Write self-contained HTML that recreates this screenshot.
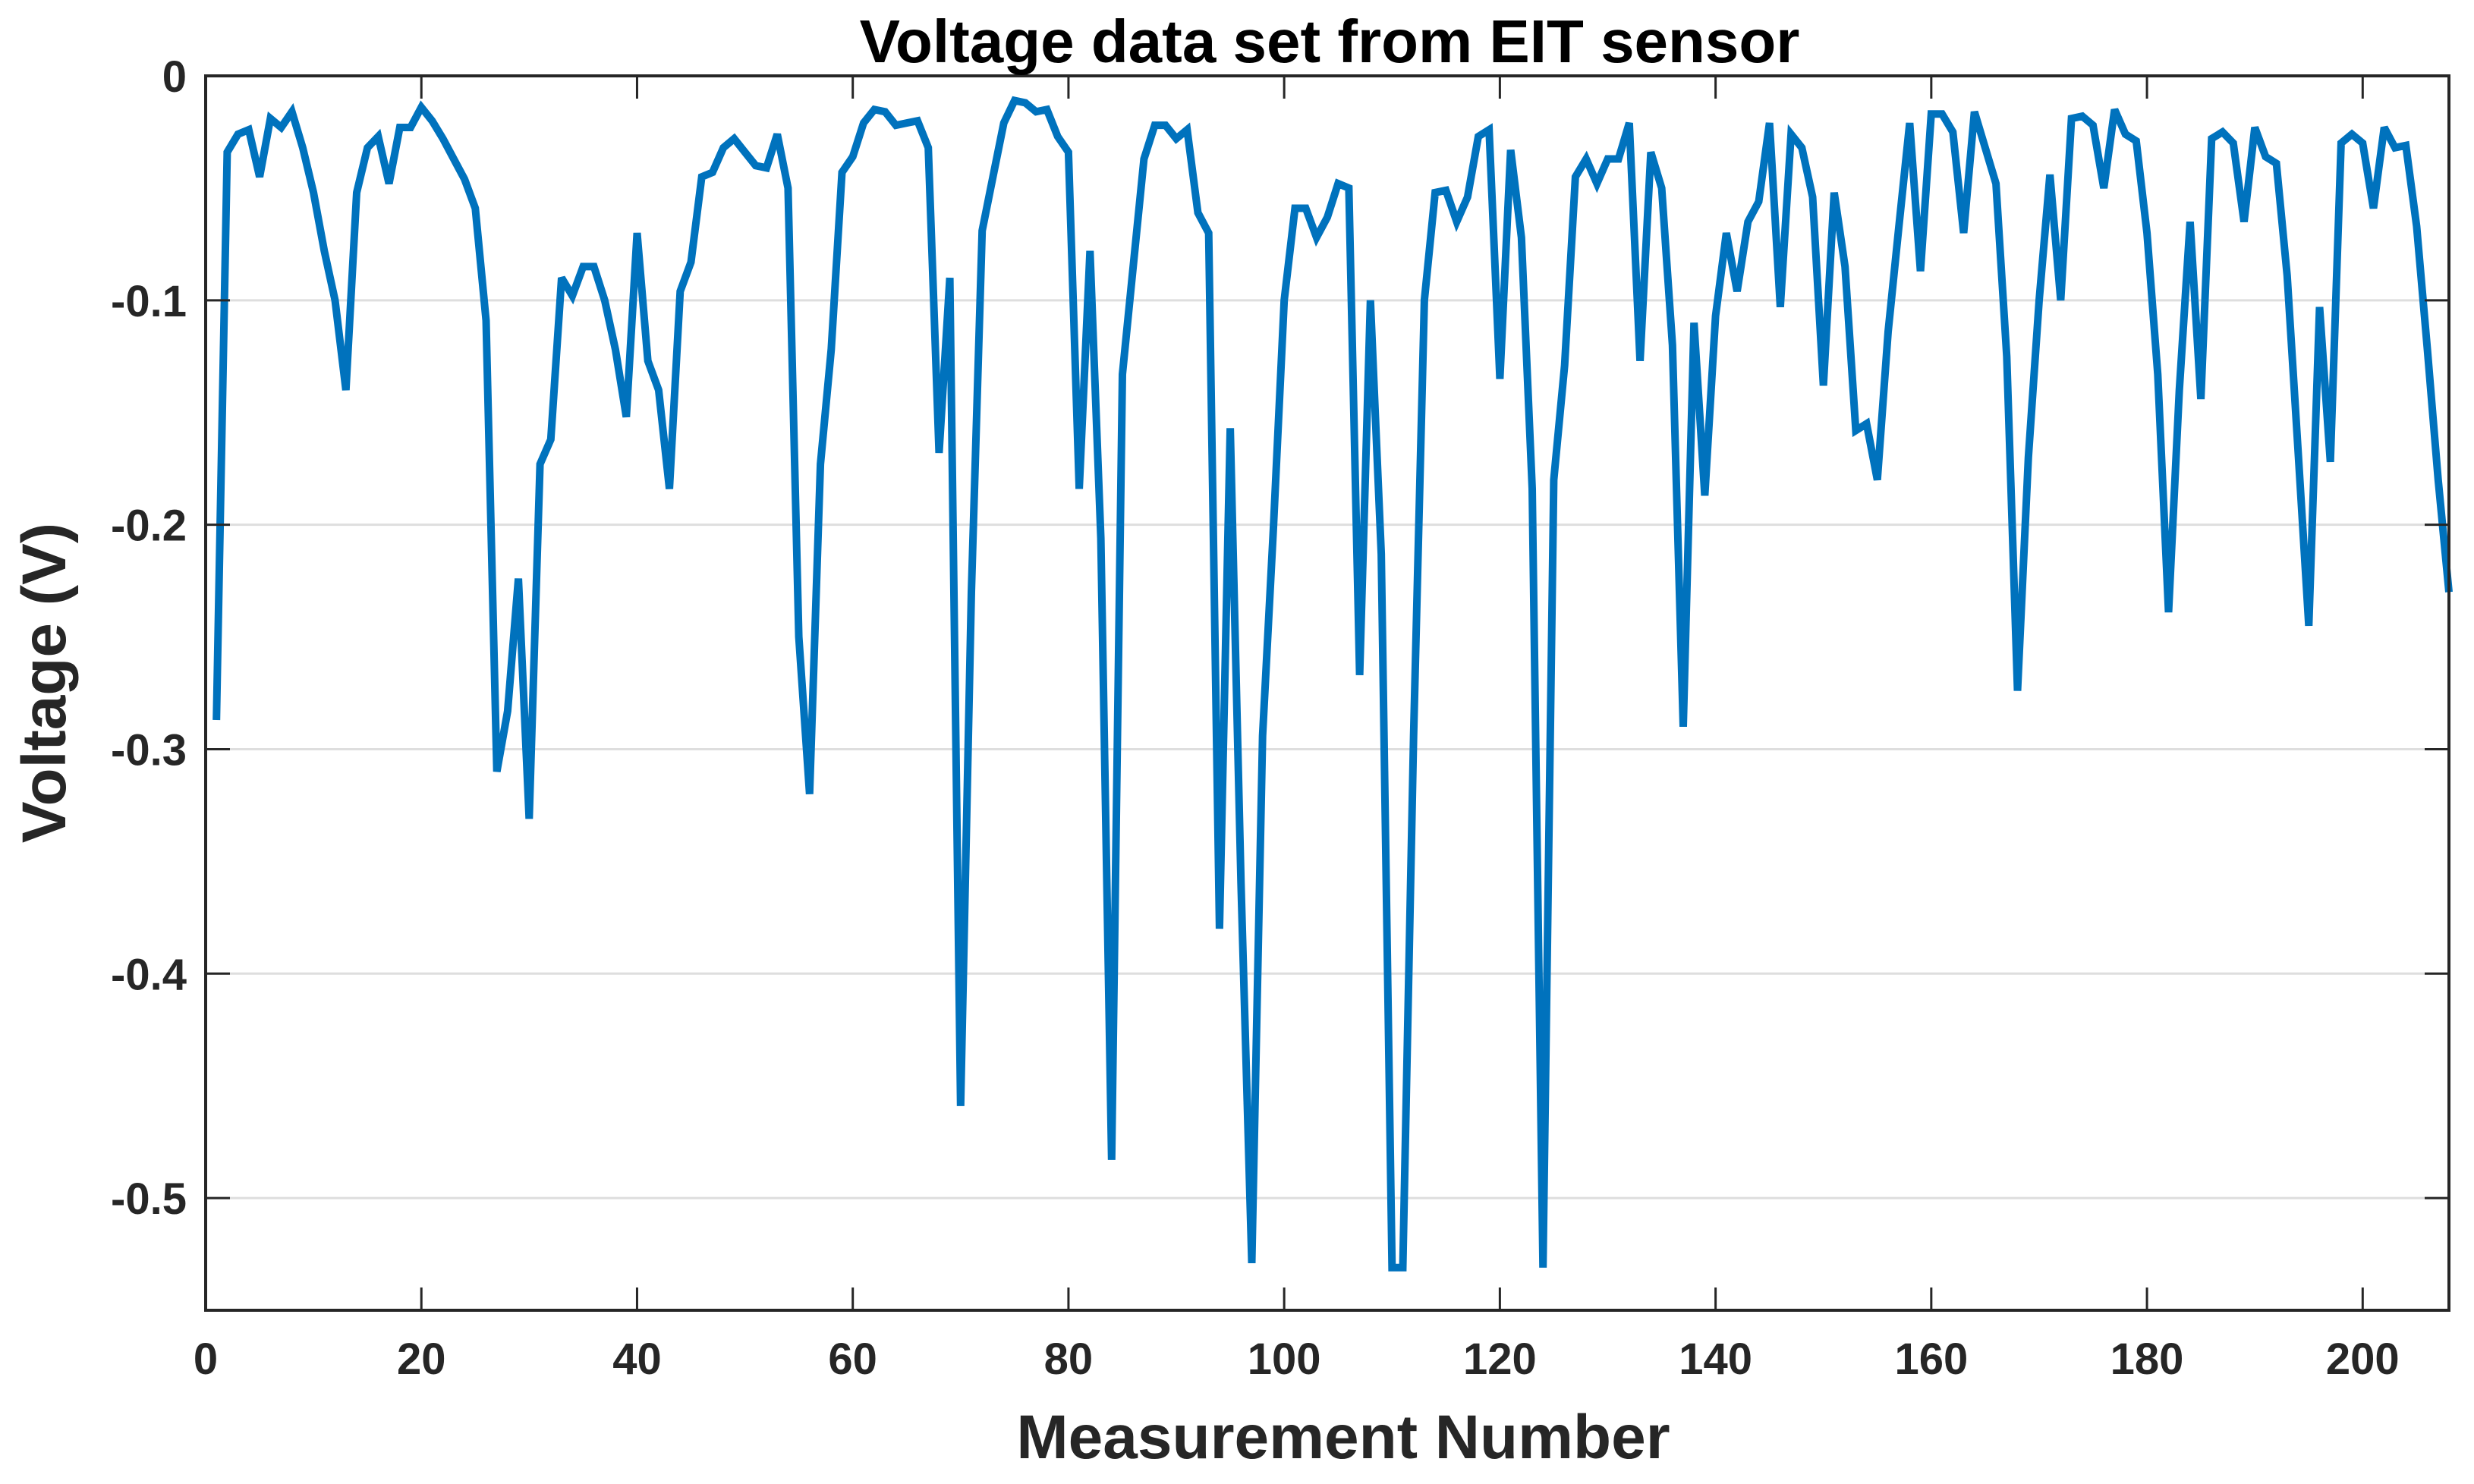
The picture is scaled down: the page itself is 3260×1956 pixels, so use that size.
<!DOCTYPE html>
<html><head><meta charset="utf-8"><style>
html,body{margin:0;padding:0;background:#fff}
svg text{font-family:"Liberation Sans",Arial,sans-serif;font-weight:bold;fill:#262626}
</style></head><body>
<svg id="chart" width="3260" height="1951" viewBox="0 0 3260 1951" xmlns="http://www.w3.org/2000/svg">
<rect x="0" y="0" width="3260" height="1951" fill="#fff"/>
<g id="grid"></g>
<g id="series"></g>
<g id="axes"></g>
<text x="1752" y="82" font-size="80" text-anchor="middle" style="fill:#000">Voltage data set from EIT sensor</text>
<text x="1770" y="1922" font-size="82" text-anchor="middle">Measurement Number</text>
<text x="0" y="0" font-size="82" text-anchor="middle" transform="translate(86,900) rotate(-90)">Voltage (V)</text>
</svg>
<script>
const voltages = [-0.287,-0.034,-0.026,-0.024,-0.045,-0.019,-0.023,-0.016,-0.032,-0.052,
-0.078,-0.1,-0.14,-0.052,-0.032,-0.027,-0.048,-0.023,-0.023,-0.014,
-0.02,-0.028,-0.037,-0.046,-0.059,-0.109,-0.31,-0.283,-0.224,-0.331,
-0.173,-0.162,-0.09,-0.098,-0.085,-0.085,-0.1,-0.122,-0.152,-0.07,
-0.127,-0.14,-0.184,-0.096,-0.083,-0.045,-0.043,-0.032,-0.028,-0.034,
-0.04,-0.041,-0.026,-0.05,-0.25,-0.32,-0.173,-0.122,-0.043,-0.036,
-0.021,-0.015,-0.016,-0.022,-0.021,-0.02,-0.032,-0.168,-0.09,-0.459,
-0.23,-0.069,-0.045,-0.021,-0.011,-0.012,-0.016,-0.015,-0.027,-0.034,
-0.184,-0.078,-0.206,-0.483,-0.133,-0.085,-0.037,-0.022,-0.022,-0.028,
-0.024,-0.061,-0.07,-0.38,-0.157,-0.36,-0.529,-0.294,-0.202,-0.1,
-0.059,-0.059,-0.072,-0.063,-0.048,-0.05,-0.267,-0.1,-0.213,-0.531,
-0.531,-0.294,-0.1,-0.052,-0.051,-0.065,-0.054,-0.027,-0.024,-0.135,
-0.033,-0.072,-0.184,-0.531,-0.18,-0.129,-0.045,-0.037,-0.048,-0.037,
-0.037,-0.021,-0.127,-0.034,-0.05,-0.12,-0.29,-0.11,-0.187,-0.107,
-0.07,-0.096,-0.065,-0.056,-0.021,-0.103,-0.026,-0.032,-0.054,-0.138,
-0.052,-0.085,-0.158,-0.155,-0.18,-0.114,-0.067,-0.021,-0.087,-0.017,
-0.017,-0.025,-0.07,-0.016,-0.032,-0.048,-0.125,-0.274,-0.17,-0.1,
-0.044,-0.1,-0.019,-0.018,-0.022,-0.05,-0.015,-0.026,-0.029,-0.07,
-0.133,-0.239,-0.14,-0.065,-0.144,-0.028,-0.025,-0.03,-0.065,-0.023,
-0.036,-0.039,-0.089,-0.166,-0.245,-0.103,-0.172,-0.03,-0.026,-0.03,
-0.059,-0.023,-0.032,-0.031,-0.067,-0.122,-0.18,-0.23];
const xTicks = [0,20,40,60,80,100,120,140,160,180,200];
const yTicks = [0,-0.1,-0.2,-0.3,-0.4,-0.5];
const yTickLabels = ['0','-0.1','-0.2','-0.3','-0.4','-0.5'];
const xMin = 0, xMax = 208, yMin = -0.55, yMax = 0;
const L = 271, R = 3227, T = 100, B = 1727;
const NS = 'http://www.w3.org/2000/svg';
function sx(v){ return L + (v - xMin) / (xMax - xMin) * (R - L); }
function sy(v){ return T + (yMax - v) / (yMax - yMin) * (B - T); }
function mk(tag, attrs, parent){ const e = document.createElementNS(NS, tag); for (const k in attrs) e.setAttribute(k, attrs[k]); parent.appendChild(e); return e; }
const grid = document.getElementById('grid'), axes = document.getElementById('axes'), series = document.getElementById('series');
yTicks.forEach((v, i) => {
  if (v !== 0) {
    const g = mk('line', {x1: L, x2: R, y1: sy(v), y2: sy(v), stroke: '#dedede', 'stroke-width': 3}, grid);
    
    
  }
  const t1 = mk('line', {x1: L, x2: L + 32, y1: sy(v), y2: sy(v), stroke: '#262626', 'stroke-width': 3}, axes);
  
  
  const t2 = mk('line', {x1: R - 32, x2: R, y1: sy(v), y2: sy(v), stroke: '#262626', 'stroke-width': 3}, axes);
  
  
  const lb = mk('text', {x: 246, y: sy(v) + 21, 'font-size': 58, 'text-anchor': 'end'}, axes);
  lb.textContent = yTickLabels[i];
  
  
});
xTicks.forEach(v => {
  const t1 = mk('line', {x1: sx(v), x2: sx(v), y1: B, y2: B - 30, stroke: '#262626', 'stroke-width': 3}, axes);
  
  
  const t2 = mk('line', {x1: sx(v), x2: sx(v), y1: T, y2: T + 30, stroke: '#262626', 'stroke-width': 3}, axes);
  
  
  const lb = mk('text', {x: sx(v), y: 1811, 'font-size': 58, 'text-anchor': 'middle'}, axes);
  lb.textContent = String(v);
  
  
});
const box = mk('rect', {x: L, y: T, width: R - L, height: B - T, fill: 'none', stroke: '#262626', 'stroke-width': 4}, axes);


const pts = voltages.map((v, i) => sx(i + 1).toFixed(1) + ',' + sy(v).toFixed(1)).join(' ');
const line = mk('polyline', {points: pts, fill: 'none', stroke: '#0072BD', 'stroke-width': 10, 'stroke-linejoin': 'miter', 'stroke-miterlimit': 3}, series);


</script>
</body></html>
